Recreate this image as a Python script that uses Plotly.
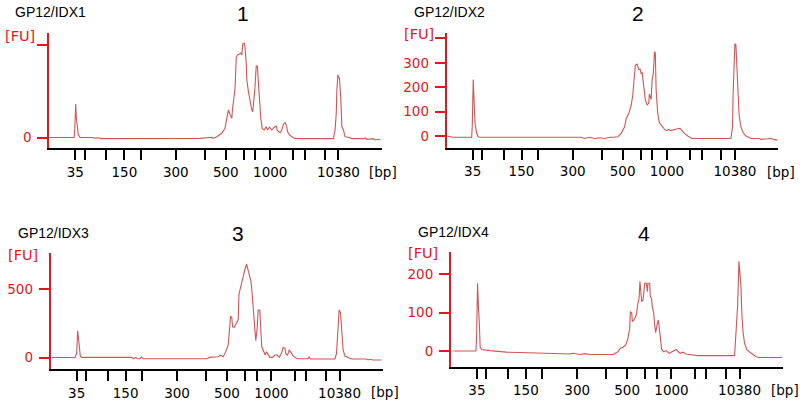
import plotly.graph_objects as go

W, H = 800, 408

# Ladder (bp) and migration time (s) of each ladder band
ladder_bp = [35, 50, 100, 150, 200, 300, 400, 500, 600, 700, 1000, 2000, 3000, 7000, 10380]
ladder_t = [41.5, 43.8, 49.25, 53.75, 57.8, 66.6, 73.9, 79.1, 83.6, 86.5, 90.2, 96.0, 98.9, 103.8, 107.25]
labeled_bp = [35, 150, 300, 500, 1000, 10380]

sample_names = ["GP12/IDX1", "GP12/IDX2", "GP12/IDX3", "GP12/IDX4"]
panel_numbers = ["1", "2", "3", "4"]

# Sample 1
t1 = [35.05, 41.2, 41.35, 41.6, 41.75, 42.0, 42.25, 42.7, 45.9, 46.4, 47.2, 47.9, 49.2, 49.7,
      72.7, 75.6, 75.9, 76.85, 78.1, 78.9, 79.35, 79.75, 80.2, 80.6, 80.75, 81.2, 81.4, 81.7,
      82.0, 82.5, 82.85, 83.1, 83.35, 83.7, 83.9, 84.2, 84.35, 84.75, 85.2, 85.6, 85.85, 86.2,
      86.4, 86.7, 87.0, 87.25, 87.5, 87.85, 88.2, 88.7, 89.2, 89.5, 90.0, 90.6, 91.2, 91.7,
      92.0, 92.7, 93.1, 93.5, 93.9, 94.35, 94.5, 95.0, 95.6, 96.4, 97.25, 106.0, 106.4, 106.7,
      106.85, 107.1, 107.3, 107.5, 107.85, 108.1, 108.5, 108.9, 109.75, 110.6, 113.5, 113.9,
      114.4, 115.2, 116.0, 116.4, 117.25, 117.7]
fu1 = [1, 1, 33, 145, 85, 33, 12, 1, 1, -3, 0, -4, -3, -4,
       -3, 2, -3, 4, 19, 40, 83, 119, 98, 83, 119, 198, 212, 341,
       356, 360, 363, 356, 403, 406, 391, 320, 248, 198, 155, 119, 112, 176,
       219, 308, 308, 234, 155, 83, 40, 33, 47, 33, 45, 33, 45, 50,
       30, 21, 33, 59, 65, 47, 26, 12, 4, -3, -4, -4, 33, 105,
       205, 270, 261, 255, 162, 47, 33, 4, 2, -4, -4, -1,
       -7, -4, -4, -10, -7, -10]

# Sample 2
t2 = [35.15, 35.8, 36.5, 41.25, 41.4, 41.65, 41.8, 42.1, 42.5, 42.9, 43.3, 68.75, 69.6, 70.8,
      72.1, 73.3, 74.6, 75.8, 76.65, 77.9, 78.75, 79.6, 80.0, 80.65, 81.25, 81.65, 82.1, 82.3,
      82.75, 83.15, 83.5, 83.75, 84.0, 84.3, 84.8, 85.25, 85.65, 85.8, 86.25, 86.5, 86.8, 87.1,
      87.3, 87.5, 87.9, 88.3, 89.0, 89.6, 90.15, 90.65, 91.25, 92.1, 92.9, 93.5, 94.0, 94.6,
      95.4, 96.5, 106.25, 106.65, 106.8, 107.1, 107.25, 107.5, 107.75, 108.0, 108.3, 108.75,
      109.3, 110.0, 111.25, 113.3, 113.75, 115.0, 116.25, 117.5, 117.9]
fu2 = [0, -3, -5, -5, 38, 232, 146, 52, 11, -3, -5, -5, -10, -5,
       -10, -7, -10, -5, -5, -3, 11, 38, 72, 92, 127, 168, 256, 291,
       295, 273, 273, 256, 259, 209, 147, 127, 134, 172, 150, 230, 259, 345,
       341, 188, 93, 55, 38, 27, 22, 27, 22, 27, 30, 31, 20, 11,
       0, -10, -10, 38, 174, 324, 379, 373, 291, 188, 86, 38,
       14, 0, -10, -10, -14, -12, -10, -16, -16]

# Sample 3
t3 = [35.25, 41.1, 41.5, 41.75, 42.0, 42.15, 42.4, 42.75, 55.25, 55.65, 56.25, 56.65, 57.3, 57.75,
      58.15, 72.3, 74.0, 74.8, 76.5, 76.9, 77.5, 78.15, 78.8, 79.4, 79.65, 80.0, 80.3, 80.5,
      80.9, 81.3, 81.9, 82.1, 82.5, 82.9, 83.3, 83.65, 84.0, 84.3, 84.65, 85.0, 85.25, 85.5,
      85.8, 86.1, 86.3, 86.65, 86.9, 87.3, 87.6, 87.8, 88.15, 88.65, 89.0, 89.4, 89.8, 90.5,
      91.1, 91.65, 92.15, 92.75, 93.15, 93.6, 93.8, 94.25, 94.65, 95.0, 95.5, 96.1, 96.65,
      99.4, 99.65, 100.0, 106.1, 106.5, 106.8, 107.15, 107.5, 107.8, 108.15, 108.6, 109.4,
      110.25, 114.0, 114.4, 114.8, 115.65, 117.75]
fu3 = [0, 0, 31, 197, 129, 79, 11, 1, 1, -9, 1, -9, -9, 4,
       -9, -9, -9, 1, 1, 6, 18, 6, 43, 92, 178, 305, 295, 226,
       222, 246, 276, 467, 520, 550, 623, 656, 687, 656, 614, 570, 520, 410,
       276, 165, 123, 215, 349, 349, 215, 79, 55, 18, 43, 18, 1, 1,
       18, 18, 1, 31, 75, 68, 26, 18, 55, 43, 18, 1, -9,
       -9, 6, -11, -11, 31, 215, 349, 329, 153, 55, 11, 1,
       -11, -11, -18, -13, -18, -18]

# Sample 4
t4 = [35.6, 41.25, 41.4, 41.65, 41.9, 42.05, 42.3, 42.7, 44.75, 45.6, 46.4, 48.9, 52.25, 63.9,
      64.75, 65.6, 67.25, 68.5, 69.75, 75.6, 76.4, 76.8, 77.4, 78.1, 78.75, 79.3, 79.75, 79.9,
      80.25, 80.4, 80.8, 81.4, 81.8, 82.1, 82.3, 82.6, 82.75, 83.1, 83.25, 83.5, 83.9, 84.2,
      84.3, 84.75, 84.9, 85.2, 85.4, 85.75, 86.0, 86.25, 86.6, 86.9, 87.1, 87.4, 87.75, 88.25,
      88.9, 89.6, 90.2, 90.75, 91.4, 91.9, 92.4, 93.1, 93.75, 95.2, 96.8, 106.0, 106.4, 106.75,
      107.1, 107.3, 107.6, 107.8, 108.1, 108.5, 109.1, 110.2, 111.4, 112.25, 117.9]
fu4 = [0, 0, 33, 177, 107, 85, 10, 4, 1, 0, -2, -3, -4, -6,
       -8, -6, -9, -7, -9, -9, -4, -2, 7, 10, 16, 33, 59, 103,
       99, 77, 81, 94, 125, 138, 182, 147, 129, 134, 160, 177, 177, 155,
       177, 177, 142, 138, 116, 99, 68, 48, 68, 81, 65, 29, 4, -2,
       1, -6, -3, 1, 4, -2, -6, -3, -8, -10, -12, -12, 55, 116,
       234, 212, 168, 103, 51, 20, 3, -6, -15, -17, -17]

series_t = [t1, t2, t3, t4]
series_fu = [fu1, fu2, fu3, fu4]

# FU axis ticks per panel (values and labels)
fu_tickvals = [[0, 400], [0, 100, 200, 300, 400], [0, 500], [0, 100, 200]]
fu_ticktext = [["0", ""], ["0", "100", "200", "300", ""], ["0", "500"], ["0", "100", "200"]]
fu_ranges = [[-45.6, 451.5], [-49.2, 422.3], [-86.7, 765.9], [-41.0, 259.2]]
t_range = [35, 118.05]

# Layout geometry (pixels): left, right, top, bottom of each plot area
boxes = [(49.3, 381.7, 32.7, 148.3), (446.7, 778.0, 33.0, 148.0),
         (50.7, 382.7, 253.3, 369.3), (451.0, 782.7, 251.7, 366.7)]

RED = "#e3171c"
TRACE = "#d35454"
FONT = "DejaVu Sans"

fig = go.Figure()
tick_text_x = [str(b) if b in labeled_bp else "" for b in ladder_bp]

for i in range(4):
    sfx = "" if i == 0 else str(i + 1)
    fig.add_trace(go.Scatter(x=series_t[i], y=series_fu[i], mode="lines",
                             line=dict(color=TRACE, width=1.1),
                             xaxis="x" + sfx, yaxis="y" + sfx, showlegend=False,
                             hoverinfo="skip"))
    l, r, t, b = boxes[i]
    fig.layout["xaxis" + sfx] = dict(
        domain=[l / W, r / W], anchor="y" + sfx, range=t_range,
        showgrid=False, zeroline=False, showline=True, linecolor="black", linewidth=2,
        ticks="outside", ticklen=10, tickwidth=1.6, tickcolor="black",
        tickmode="array", tickvals=ladder_t, ticktext=tick_text_x,
        tickfont=dict(family=FONT, size=13.5, color="black"), ticklabelstandoff=0)
    fig.layout["yaxis" + sfx] = dict(
        domain=[1 - b / H, 1 - t / H], anchor="x" + sfx, range=fu_ranges[i],
        showgrid=False, zeroline=False, showline=True, linecolor=RED, linewidth=2,
        ticks="outside", ticklen=10, tickwidth=1.8, tickcolor=RED,
        tickmode="array", tickvals=fu_tickvals[i], ticktext=fu_ticktext[i],
        tickfont=dict(family=FONT, size=13.5, color=RED), ticklabelstandoff=3)

def px(x, y):
    return x / W, 1 - y / H

annots = []
name_pos = [(14, 12), (413, 12), (17, 232.7), (417, 231.7)]
num_pos = [(243, 13), (638, 13), (237.5, 233.5), (644, 233.5)]
fu_pos = [(4, 36), (403, 34), (7, 255), (407, 253)]
bp_pos = [(368, 172), (766, 172), (370, 391.7), (770, 390)]
for i in range(4):
    x, y = px(*name_pos[i])
    annots.append(dict(text=sample_names[i], x=x, y=y, xanchor="left", yanchor="middle",
                       font=dict(family="Liberation Sans", size=14, color="black")))
    x, y = px(*num_pos[i])
    annots.append(dict(text=panel_numbers[i], x=x, y=y, xanchor="center", yanchor="middle",
                       font=dict(family="Liberation Sans", size=21, color="black")))
    x, y = px(*fu_pos[i])
    annots.append(dict(text="[FU]", x=x, y=y, xanchor="left", yanchor="middle",
                       font=dict(family=FONT, size=14.5, color=RED)))
    x, y = px(*bp_pos[i])
    annots.append(dict(text="[bp]", x=x, y=y, xanchor="left", yanchor="middle",
                       font=dict(family=FONT, size=13.5, color="black")))
for a in annots:
    a.update(xref="paper", yref="paper", showarrow=False, borderpad=0)

fig.update_layout(width=W, height=H, margin=dict(l=0, r=0, t=0, b=0),
                  paper_bgcolor="white", plot_bgcolor="white", annotations=annots)

fig.write_html("out.html", config={"displayModeBar": False},
               post_script="document.body.style.margin='0px';document.body.style.overflow='hidden';")
